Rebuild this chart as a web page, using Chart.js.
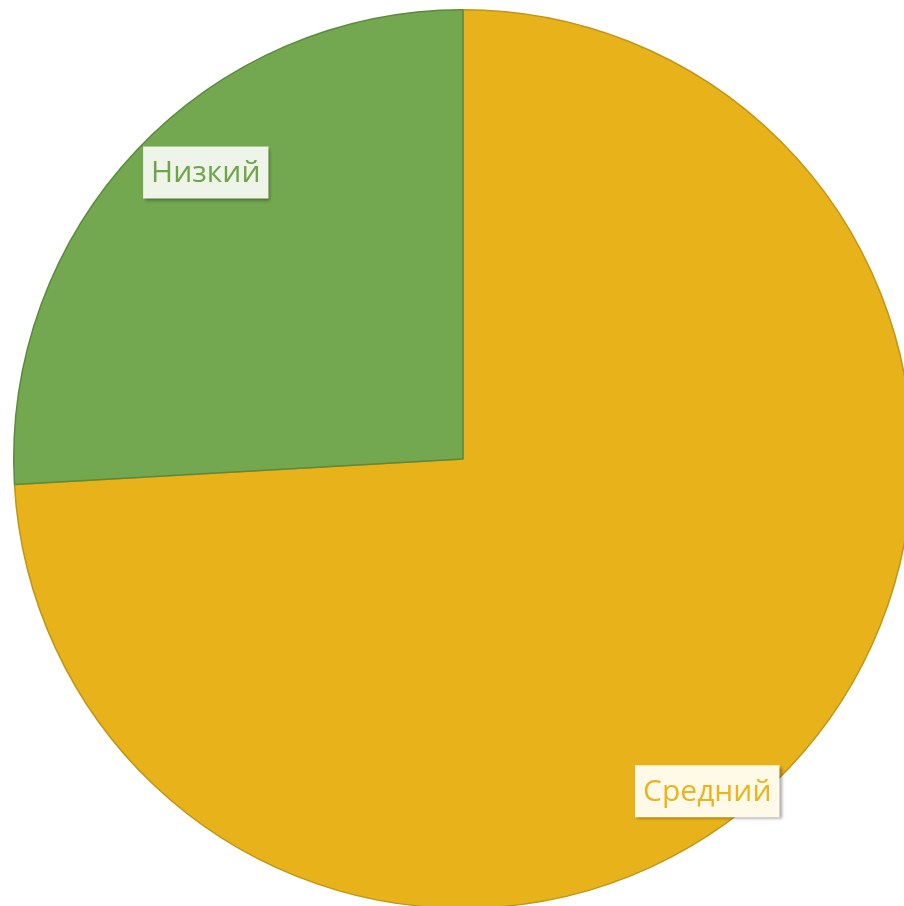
<!DOCTYPE html>
<html lang="ru">
<head>
<meta charset="utf-8">
<script src="https://cdn.jsdelivr.net/npm/chart.js@4"></script>
<style>
    html, body { margin: 0; padding: 0; background: #ffffff; overflow: hidden; }
    #wrap { position: absolute; left: 0; top: 0; width: 926px; height: 918px; }
</style>
</head>
<body>
<div id="wrap"><canvas id="grafico"></canvas></div>
<script>
const categorias = ["Средний", "Низкий"];
const valores = [74.1, 25.9];

const cores = ["#E8B31A", "#73A750"];
const coresBorda = ["#C39514", "#5B8A3C"];
const coresTexto = ["#E9B420", "#6FA34C"];
const fundosRotulo = ["#FFF9E8", "#EEF5E8"];

// onde cada rótulo fica: fração do raio e desvio do ângulo médio (graus)
const posRotulo = [
    { raio: 0.918, desvio: 10.3 },
    { raio: 0.857, desvio: 4.7 }
];

const rotulos = {
    id: "rotulos",
    afterDatasetsDraw(chart) {
        const ctx = chart.ctx;
        const meta = chart.getDatasetMeta(0);
        ctx.save();
        ctx.font = "30px 'Open Sans', sans-serif";
        ctx.textAlign = "center";
        ctx.textBaseline = "middle";
        meta.data.forEach((arc, i) => {
            const p = arc.getProps(["x", "y", "startAngle", "endAngle", "outerRadius"], true);
            const ang = (p.startAngle + p.endAngle) / 2 + posRotulo[i].desvio * Math.PI / 180;
            const r = p.outerRadius * posRotulo[i].raio;
            const cx = p.x + Math.cos(ang) * r;
            const cy = p.y + Math.sin(ang) * r;
            const texto = categorias[i];
            const w = ctx.measureText(texto).width + 16;
            const h = 52;

            ctx.shadowColor = "rgba(0,0,0,0.35)";
            ctx.shadowBlur = 3;
            ctx.shadowOffsetX = 2;
            ctx.shadowOffsetY = 2;
            ctx.fillStyle = fundosRotulo[i];
            ctx.fillRect(cx - w / 2, cy - h / 2, w, h);
            ctx.shadowColor = "transparent";

            ctx.fillStyle = coresTexto[i];
            ctx.fillText(texto, cx, cy + 1);
        });
        ctx.restore();
    }
};

new Chart(document.getElementById("grafico"), {
    type: "pie",
    data: {
        labels: categorias,
        datasets: [{
            data: valores,
            backgroundColor: cores,
            borderColor: coresBorda,
            borderWidth: 1.5
        }]
    },
    options: {
        responsive: true,
        maintainAspectRatio: false,
        animation: false,
        layout: { padding: { top: 9, bottom: 9, left: 0, right: 0 } },
        plugins: {
            legend: { display: false },
            tooltip: { enabled: false }
        }
    },
    plugins: [rotulos]
});
</script>
</body>
</html>
